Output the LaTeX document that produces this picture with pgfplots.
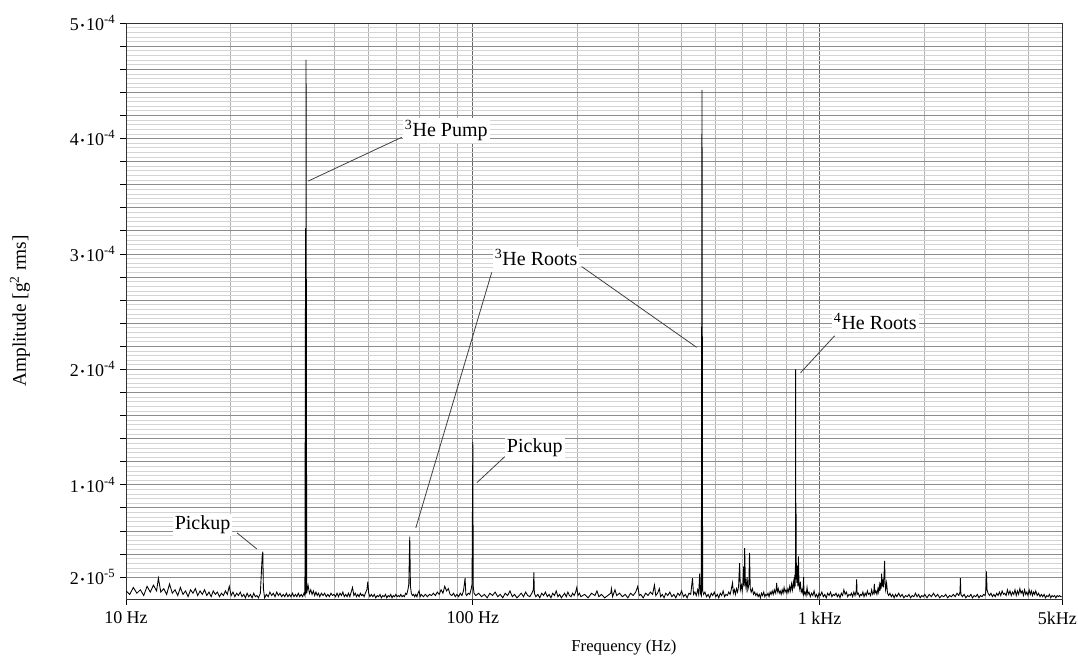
\documentclass[border=0pt]{standalone}
\usepackage{fontspec}
\setmainfont{Liberation Serif}
\usepackage{pgfplots}
\pgfplotsset{compat=1.18}
\usepackage{pgfplotstable}
\newcommand{\dt}{\kern1.2pt{\fontsize{8.5}{8.5}\selectfont\raisebox{0.2ex}{\textbullet}}\kern1.2pt}
\newcommand{\tl}[2]{#1\dt10\textsuperscript{#2}}

% frequency (Hz), amplitude in units of 1e-6 g^2 rms
\pgfplotstableread{
f a
10.00 8
10.25 5
10.5 11
10.75 6
11.0 9
11.25 4
11.5 12
11.75 7
12.0 13
12.25 8
12.4 19
12.6 7
12.85 10
13.1 5
13.35 14
13.6 6
13.85 9
14.1 4
14.35 11
14.6 5
14.85 8
15.1 3
15.35 9
15.6 6
15.85 10
16.1 4
16.35 8
16.6 5
16.85 9
17.1 4
17.35 7
17.6 3
17.85 8
18.1 5
18.35 7
18.6 3
18.85 6
19.1 4
19.35 8
19.6 5
19.85 12
20.1 4
20.35 7
20.6 3
20.85 6
21.1 4
21.35 7
21.6 3
21.85 5
22.1 2
22.35 6
22.6 3
22.85 5
23.1 2
23.35 6
23.6 3
23.85 4
24.1 2
24.4 6
24.7 38
24.8 42
24.9 10
25.1 2
25.4 5
25.7 3
26.0 7
26.3 4
26.6 6
26.9 3
27.2 7
27.5 4
27.8 6
28.1 3
28.4 5
28.7 3
29.0 6
29.3 3
29.6 5
29.9 3
30.2 6
30.5 3
30.8 5
31.1 3
31.4 6
31.7 3
32.0 5
32.3 3
32.6 6
32.8 4
32.95 322
33.0 5
33.05 468
33.2 6
33.5 13
33.8 6
34.1 9
34.4 5
34.7 8
35.0 4
35.3 7
35.6 4
35.9 6
36.2 3
36.6 6
37.0 4
37.4 6
37.8 3
38.2 5
38.6 3
39.0 6
39.4 4
39.8 5
40.2 3
40.6 6
41.0 3
41.4 6
41.8 4
42.2 7
42.6 3
43.0 5
43.4 3
43.8 6
44.2 3
44.6 7
45.0 11
45.4 4
45.8 6
46.2 3
46.6 5
47.0 3
47.4 6
47.8 4
48.2 5
48.6 3
49.0 6
49.5 9
49.8 16
50.1 6
50.5 3
51.0 5
51.5 3
52.0 5
52.5 2
53.0 4
53.5 3
54.0 5
54.5 2
55.0 4
55.5 3
56.0 5
56.5 2
57.0 4
57.5 3
58.0 5
58.5 2
59.0 4
59.5 3
60.0 5
60.5 3
61.0 4
61.5 3
62.0 5
62.5 3
63.0 4
63.5 3
64.0 6
64.5 5
65.0 9
65.4 14
65.8 55
66.1 12
66.5 6
67.0 4
67.5 5
68.0 3
68.5 5
69.0 3
69.5 6
70.0 8
70.5 3
71.0 5
72.0 3
73.0 5
74.0 3
75.0 5
76.0 4
77.0 6
78.0 4
79.0 7
80.0 5
81.0 9
82.0 6
83.0 12
84.0 8
85.0 10
86.0 5
87.0 4
88.0 6
89.0 3
90.0 5
91.0 3
92.0 6
93.0 4
94.0 8
95.0 19
95.5 5
96.0 4
97.0 6
98.0 5
99.0 10
99.5 14
100.0 137
100.3 12
100.8 6
102 4
104 6
106 3
108 5
110 2
112 6
114 4
116 7
118 3
120 5
122 2
124 6
126 4
128 8
130 3
132 5
134 2
136 4
138 6
140 3
142 7
144 4
146 3
148 6
149.5 9
150 24
150.5 6
152 3
154 5
156 2
158 6
160 4
162 7
164 3
166 5
168 2
170 6
172 4
174 8
176 3
178 5
180 2
182 4
184 6
186 3
188 7
190 4
192 3
194 6
196 4
198 7
199.5 11
201 4
203 6
205 3
210 5
215 2
220 6
225 4
228 8
231 3
235 5
240 2
245 4
250 6
251 10
253 3
257 9
260 4
265 6
270 3
275 5
280 2
285 6
290 4
295 7
299 12
302 4
305 5
310 2
315 6
320 4
325 7
330 5
334 13
337 4
341 6
345 10
348 3
352 5
356 2
360 6
365 4
370 7
375 3
380 5
385 2
390 6
395 4
400 8
405 3
410 5
415 2
420 6
425 5
430 19
433 5
437 7
441 4
445 9
448 5
451 23
453 6
456 4
458 442
460 8
463 5
467 7
472 3
477 5
482 2
487 6
492 4
497 7
502 3
507 5
512 2
517 6
522 4
527 8
532 3
537 5
542 4
547 7
552 5
556 9
561 15
564 6
568 9
572 5
576 10
580 7
584 12
588 32
591 9
595 13
598 8
601 14
604 29
606 12
608 45
611 15
614 10
618 20
621 9
625 13
628 41
631 10
635 7
640 10
645 5
650 7
655 4
660 6
665 3
670 5
675 2
680 6
685 4
690 7
695 3
700 5
705 4
710 6
715 3
720 7
725 5
730 8
735 5
740 9
745 6
750 10
752 15
755 7
760 10
765 6
770 8
775 5
780 9
785 6
790 11
795 7
800 9
805 6
810 10
815 7
820 12
825 8
830 14
835 9
840 16
845 10
848 22
850 12
852 32
853 200
854 18
855 84
857 25
860 15
863 30
866 12
869 38
872 14
876 10
880 16
885 7
890 9
895 6
899 20
902 5
908 7
914 4
920 11
925 5
932 7
940 3
948 6
956 4
964 8
972 3
980 5
988 2
996 6
1005 4
1015 7
1025 3
1035 5
1045 2
1055 6
1065 4
1075 7
1085 3
1095 5
1105 4
1115 6
1125 3
1135 5
1145 2
1155 6
1165 4
1175 9
1185 5
1195 7
1205 3
1215 5
1225 4
1235 6
1245 3
1255 7
1265 4
1275 8
1279 18
1283 5
1293 6
1303 3
1313 5
1323 4
1333 7
1343 3
1353 6
1363 4
1373 8
1383 5
1393 6
1403 4
1413 9
1423 5
1433 7
1438 14
1443 6
1453 8
1463 5
1473 10
1480 7
1487 13
1493 8
1500 15
1505 10
1510 23
1515 12
1520 18
1527 11
1533 20
1540 34
1545 14
1550 9
1560 15
1570 6
1582 4
1595 6
1610 3
1625 5
1640 2
1655 5
1670 3
1690 6
1710 3
1730 5
1750 2
1770 4
1790 3
1810 5
1830 2
1850 4
1870 3
1890 6
1910 3
1930 5
1950 2
1970 4
1990 3
2010 5
2040 2
2070 5
2100 3
2130 6
2160 3
2190 5
2220 2
2250 4
2280 3
2310 5
2340 2
2370 4
2400 3
2430 5
2460 3
2490 6
2520 4
2540 7
2547 19
2555 5
2580 3
2610 5
2640 2
2670 4
2700 3
2730 5
2760 2
2790 4
2820 3
2850 5
2880 2
2910 4
2940 3
2970 5
3000 4
3015 8
3027 25
3040 9
3060 6
3090 4
3120 6
3150 3
3180 5
3210 3
3240 6
3270 4
3300 7
3330 4
3360 8
3390 5
3420 6
3450 4
3480 9
3510 5
3540 8
3570 4
3600 7
3630 5
3660 9
3690 4
3720 8
3750 5
3780 10
3810 6
3840 8
3870 4
3900 9
3930 5
3960 7
3990 4
4020 9
4050 5
4080 8
4110 4
4140 7
4170 5
4200 8
4240 4
4280 6
4320 3
4360 5
4400 3
4440 5
4480 2
4520 4
4560 3
4600 5
4640 2
4680 4
4720 3
4760 4
4800 2
4840 4
4880 3
4920 4
4960 3
5000 3
}\spectrum

\begin{document}
\begin{tikzpicture}
\begin{axis}[
  scale only axis,
  width=702pt, height=432pt,
  xmode=log, log basis x=10,
  xmin=10, xmax=5000, ymin=1, ymax=500,
  xtick={10,100,1000,5000},
  xticklabels={10 Hz,100 Hz,1 kHz,5kHz\hspace*{7pt}},
  minor xtick={20,30,40,50,60,70,80,90,200,300,400,500,600,700,800,900,2000,3000,4000},
  ytick={20,40,60,80,100,120,140,160,180,200,220,240,260,280,300,320,340,360,380,400,420,440,460,480,500},
  yticklabels={\tl{2}{-5},,,,\tl{1}{-4},,,,,\tl{2}{-4},,,,,\tl{3}{-4},,,,,\tl{4}{-4},,,,,\tl{5}{-4}},
  minor y tick num=4,
  scaled ticks=false,
  grid=both,
  major x grid style={color=black!60, line width=0.6pt},
  minor x grid style={color=black!30, line width=0.5pt},
  major y grid style={color=black!45, line width=0.5pt},
  minor y grid style={color=black!17, line width=0.4pt},
  tick align=outside,
  xtick pos=bottom, ytick pos=left,
  major tick length=4.5pt,
  minor tick length=0pt,
  tick style={color=black, line width=0.5pt},
  axis line style={color=black!80, line width=0.6pt},
  ticklabel style={font=\fontsize{13.5}{15}\selectfont},
  xticklabel style={yshift=-1.5pt},
  xlabel={Frequency (Hz)},
  ylabel={Amplitude [g\textsuperscript{2} rms]},
  xlabel style={font=\fontsize{12.5}{14}\selectfont, at={([yshift=-36.75pt]axis description cs:0.532,0)}, anchor=center},
  ylabel style={font=\fontsize{14.5}{16}\selectfont, at={([xshift=-79.5pt]axis description cs:0,0.5)}, anchor=center},
]
\addplot[black, line width=0.65pt, mark=none] table[x=f, y=a] {\spectrum};

\begin{scope}[black!75, line width=0.6pt]
\draw (axis cs:33.5,363) -- (axis cs:62.4,401);
\draw (axis cs:113.4,284) -- (axis cs:68.5,62.6);
\draw (axis cs:206,289) -- (axis cs:442,219);
\draw (axis cs:1105,229) -- (axis cs:881,197);
\draw (axis cs:123.6,124.3) -- (axis cs:102.7,101.7);
\draw (axis cs:20.9,58.3) -- (axis cs:23.85,44.3);
\end{scope}
\begin{scope}[every node/.style={fill=white, inner sep=1.5pt, font=\fontsize{15}{17}\selectfont}]
\node[anchor=west] at (axis cs:62.8,407) {\textsuperscript{3}He Pump};
\node[anchor=west] at (axis cs:114,297) {\textsuperscript{3}He Roots};
\node[anchor=west] at (axis cs:1083,241) {\textsuperscript{4}He Roots};
\node[anchor=west] at (axis cs:123.6,132) {Pickup};
\node[anchor=east] at (axis cs:20.3,65.2) {Pickup};
\end{scope}
\end{axis}
\pgfresetboundingbox
\path[use as bounding box] (current axis.south west) ++(-94.5pt,-45.75pt) rectangle ++(808.5pt,495pt);
\end{tikzpicture}
\end{document}
